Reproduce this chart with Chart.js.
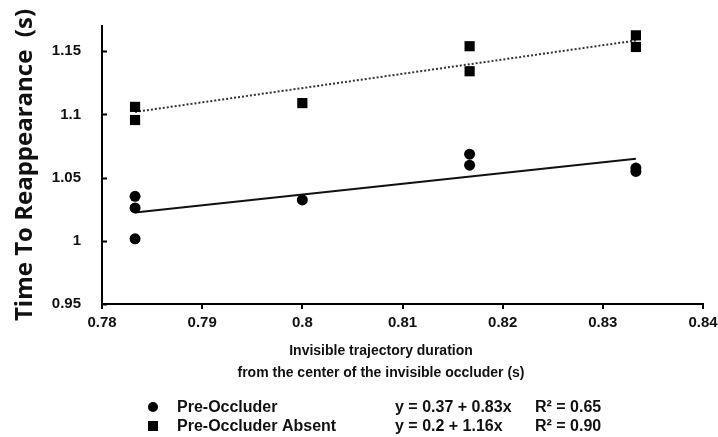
<!DOCTYPE html>
<html>
<head>
<meta charset="utf-8">
<script src="https://cdn.jsdelivr.net/npm/chart.js@4"></script>
<style>
  html, body { margin: 0; padding: 0; background: #fff; }
  #wrap { width: 718px; height: 437px; }
</style>
</head>
<body>
<div id="wrap"><canvas id="chart" width="718" height="437"></canvas></div>
<script>
// Pre-Occluder (circles)
const preX = [0.7833, 0.7833, 0.7833, 0.8, 0.8167, 0.8167, 0.8333, 0.8333];
const preY = [1.0352, 1.026, 1.0016, 1.0324, 1.0686, 1.0599, 1.0576, 1.0549];

// Pre-Occluder Absent (squares)
const absX = [0.7833, 0.7833, 0.8, 0.8167, 0.8167, 0.8333, 0.8333];
const absY = [1.106, 1.0956, 1.109, 1.154, 1.1342, 1.1626, 1.1534];

// fitted lines, end points
const preFitX = [0.7833, 0.8333];
const preFitY = [1.0225, 1.065];
const absFitX = [0.7833, 0.8333];
const absFitY = [1.102, 1.1585];

const seriesNames = ['Pre-Occluder', 'Pre-Occluder Absent'];
const equations = ['y = 0.37 + 0.83x', 'y = 0.2 + 1.16x'];
const rSquared = ['R\u00B2 = 0.65', 'R\u00B2 = 0.90'];

const yTitle = 'Time To Reappearance  (s)';
const xTitle = ['Invisible trajectory duration', 'from the center of the invisible occluder (s)'];

const toPoints = (xs, ys) => xs.map((x, i) => ({ x, y: ys[i] }));
const fmt = (v) => String(parseFloat(v.toFixed(4)));

const LABEL_FONT = '"Liberation Sans", Arial, sans-serif';

// titles, legend and the inward y ticks
const decorations = {
  id: 'decorations',
  afterDraw(chart) {
    const ctx = chart.ctx;
    const area = chart.chartArea;
    const yScale = chart.scales.y;
    ctx.save();

    // y ticks point into the plot
    ctx.strokeStyle = '#000';
    ctx.lineWidth = 2;
    yScale.ticks.forEach((t) => {
      const py = Math.round(yScale.getPixelForValue(t.value)) + 0.5;
      ctx.beginPath();
      ctx.moveTo(area.left, py);
      ctx.lineTo(area.left + 5, py);
      ctx.stroke();
    });

    // y title
    ctx.fillStyle = '#111';
    ctx.font = 'bold 24px "Open Sans", sans-serif';
    ctx.textAlign = 'center';
    ctx.textBaseline = 'middle';
    ctx.translate(25, 165);
    ctx.rotate(-Math.PI / 2);
    ctx.fillText(yTitle, 0, 0);
    ctx.setTransform(1, 0, 0, 1, 0, 0);

    // x title
    ctx.font = 'bold 14px ' + LABEL_FONT;
    ctx.fillText(xTitle[0], 381, 351);
    ctx.fillText(xTitle[1], 381, 373);

    // legend
    const rows = [407, 426];
    ctx.fillStyle = '#000';
    ctx.beginPath();
    ctx.arc(153, rows[0], 5, 0, Math.PI * 2);
    ctx.fill();
    ctx.fillRect(148, rows[1] - 5, 10, 10);

    ctx.fillStyle = '#111';
    ctx.font = 'bold 16px ' + LABEL_FONT;
    ctx.textAlign = 'left';
    rows.forEach((ry, i) => {
      ctx.fillText(seriesNames[i], 177, ry + 1);
      ctx.fillText(equations[i], 395, ry + 1);
      ctx.fillText(rSquared[i], 535, ry + 1);
    });
    ctx.restore();
  }
};

new Chart(document.getElementById('chart'), {
  type: 'scatter',
  data: {
    datasets: [
      {
        label: seriesNames[0],
        data: toPoints(preX, preY),
        pointStyle: 'circle',
        pointRadius: 5.5,
        backgroundColor: '#000',
        borderColor: '#000',
        borderWidth: 0,
      },
      {
        label: seriesNames[1],
        data: toPoints(absX, absY),
        pointStyle: 'rect',
        pointRadius: 7.2,
        backgroundColor: '#000',
        borderColor: '#000',
        borderWidth: 0,
      },
      {
        label: 'fit pre',
        data: toPoints(preFitX, preFitY),
        showLine: true,
        pointRadius: 0,
        borderColor: '#111',
        borderWidth: 2,
      },
      {
        label: 'fit absent',
        data: toPoints(absFitX, absFitY),
        showLine: true,
        pointRadius: 0,
        borderColor: '#333',
        borderWidth: 2,
        borderDash: [2, 2],
      },
    ],
  },
  options: {
    responsive: false,
    animation: false,
    layout: { padding: { top: 26, right: 0, left: 0, bottom: 100 } },
    plugins: {
      legend: { display: false },
      tooltip: { enabled: false },
    },
    scales: {
      x: {
        type: 'linear',
        min: 0.78,
        max: 0.84,
        ticks: {
          stepSize: 0.01,
          padding: 5,
          color: '#111',
          font: { family: LABEL_FONT, size: 15, weight: 'bold' },
          callback: (v) => fmt(v),
        },
        grid: { drawOnChartArea: false, drawTicks: true, tickLength: 5, color: '#000', lineWidth: 2 },
        border: { display: true, color: '#000', width: 2 },
        afterFit: (scale) => {
          scale.height = 33;
          scale.paddingLeft = 0;
          scale.paddingRight = 15;
        },
      },
      y: {
        type: 'linear',
        min: 0.95,
        max: 1.17,
        ticks: {
          stepSize: 0.05,
          includeBounds: false,
          padding: 13,
          color: '#111',
          font: { family: LABEL_FONT, size: 15, weight: 'bold' },
          callback: (v) => fmt(v),
        },
        grid: { display: false },
        border: { display: true, color: '#000', width: 2 },
        afterFit: (scale) => { scale.width = 102; },
      },
    },
  },
  plugins: [decorations],
});
</script>
</body>
</html>
